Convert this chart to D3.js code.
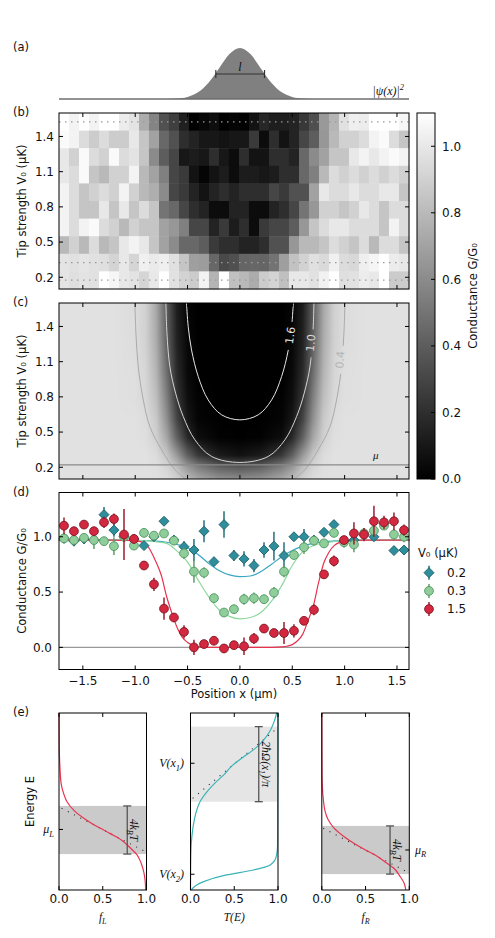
<!DOCTYPE html>
<html lang="en">
<head>
<meta charset="UTF-8">
<script src="https://d3js.org/d3.v7.min.js"></script>
<title>Tip conductance</title>
<style>
  body { margin: 0; background: #fff; }
  text { font-family: "DejaVu Sans", sans-serif; fill: #111; }
  .math { font-family: "Liberation Serif", "DejaVu Serif", serif; font-style: italic; }
</style>
</head>
<body>
<div id="chart"></div>
<script>
// ---------- data ----------
// tip positions (µm) of the measured cuts
const xPos = [-1.68, -1.585, -1.489, -1.394, -1.298, -1.203, -1.107, -1.012, -0.916, -0.821,
  -0.725, -0.63, -0.534, -0.439, -0.343, -0.248, -0.152, -0.057, 0.039, 0.134,
  0.23, 0.325, 0.421, 0.516, 0.612, 0.707, 0.803, 0.898, 0.994, 1.089,
  1.185, 1.28, 1.376, 1.471, 1.567];

// (d) conductance cuts, V0 = 0.2, 0.3, 1.5 µK, with error bars
const g02 = [0.985, 0.96, 0.98, 0.97, 1.20, 1.06, 1.0, 0.98, 0.92, 1.0,
  1.14, 0.97, 0.91, 0.88, 1.05, 0.775, 1.11, 0.83, 0.80, 0.74,
  0.88, 0.915, 0.83, 1.0, 1.0, 0.97, 1.04, 1.11, 0.96, 0.97,
  1.02, 1.0, 1.12, 0.875, 0.88];
const e02 = [0.03, 0.03, 0.03, 0.03, 0.07, 0.06, 0.03, 0.03, 0.03, 0.03,
  0.03, 0.03, 0.05, 0.1, 0.1, 0.04, 0.12, 0.05, 0.07, 0.06,
  0.07, 0.13, 0.12, 0.02, 0.07, 0.03, 0.03, 0.03, 0.03, 0.03,
  0.03, 0.03, 0.03, 0.02, 0.02];
const g03 = [0.985, 0.97, 0.99, 0.97, 0.96, 0.915, 1.0, 0.92, 1.035, 1.01,
  1.03, 0.965, 0.85, 0.685, 0.675, 0.445, 0.315, 0.345, 0.435, 0.445,
  0.435, 0.495, 0.685, 0.835, 0.905, 0.965, 0.94, 1.035, 0.95, 0.93,
  1.03, 1.055, 1.1, 1.02, 1.0];
const e03 = [0.03, 0.03, 0.03, 0.08, 0.04, 0.08, 0.03, 0.04, 0.04, 0.03,
  0.03, 0.04, 0.05, 0.1, 0.05, 0.04, 0.03, 0.04, 0.05, 0.05,
  0.04, 0.05, 0.05, 0.04, 0.06, 0.04, 0.04, 0.04, 0.05, 0.07,
  0.05, 0.05, 0.04, 0.05, 0.05];
const g15 = [1.10, 1.05, 1.11, 1.05, 1.13, 1.16, 1.02, 0.98, 0.74, 0.57,
  0.35, 0.27, 0.14, 0.00, 0.03, 0.06, -0.01, 0.02, 0.01, 0.08,
  0.17, 0.13, 0.13, 0.15, 0.24, 0.34, 0.66, 0.78, 0.97, 1.03,
  1.02, 1.14, 1.13, 1.14, 1.06];
const e15 = [0.075, 0.04, 0.04, 0.04, 0.05, 0.05, 0.23, 0.04, 0.04, 0.06,
  0.1, 0.04, 0.06, 0.07, 0.03, 0.03, 0.04, 0.03, 0.08, 0.05,
  0.04, 0.03, 0.1, 0.06, 0.03, 0.05, 0.04, 0.05, 0.04, 0.1,
  0.06, 0.14, 0.06, 0.08, 0.05];

// (d) fitted curves
const fitX = [-1.73, -1.2, -1.0, -0.9, -0.8, -0.7, -0.6, -0.5, -0.4, -0.3, -0.2, -0.1, 0,
  0.1, 0.2, 0.3, 0.4, 0.5, 0.6, 0.7, 0.8, 0.9, 1.0, 1.2, 1.62];
const fit02 = [0.97, 0.97, 0.968, 0.965, 0.96, 0.95, 0.93, 0.9, 0.84, 0.76, 0.695, 0.655, 0.64,
  0.645, 0.685, 0.75, 0.82, 0.875, 0.915, 0.94, 0.955, 0.962, 0.966, 0.97, 0.97];
const fit03 = [0.97, 0.97, 0.968, 0.965, 0.955, 0.94, 0.87, 0.77, 0.61, 0.46, 0.34, 0.28, 0.257,
  0.27, 0.315, 0.415, 0.56, 0.74, 0.865, 0.92, 0.945, 0.957, 0.963, 0.968, 0.97];
const fit15X = [-1.73, -1.2, -1.0, -0.9, -0.8, -0.75, -0.7, -0.65, -0.6, -0.55, -0.5, -0.45, -0.4, -0.3, 0,
  0.3, 0.4, 0.45, 0.5, 0.55, 0.6, 0.65, 0.7, 0.75, 0.8, 0.85, 0.9, 1.0, 1.2, 1.62];
const fit15 = [0.97, 0.97, 0.965, 0.935, 0.77, 0.65, 0.46, 0.31, 0.18, 0.09, 0.045, 0.02, 0.006, 0, 0,
  0, 0.004, 0.01, 0.025, 0.06, 0.12, 0.24, 0.37, 0.58, 0.76, 0.86, 0.92, 0.96, 0.97, 0.97];

// (b) measured map, rows from top (V0 = 1.525) to bottom (V0 = 0.175)
const mapV = [1.525, 1.375, 1.225, 1.075, 0.925, 0.775, 0.625, 0.475, 0.325, 0.175];
const row1375 = [1.08, 1.05, 0.95, 0.88, 0.95, 0.88, 0.88, 1.0, 0.85, 0.7, 0.45, 0.35, 0.2, 0.15, 0.1, 0.1, 0.08, 0.1,
  0.1, 0.25, 0.05, 0.2, 0.08, 0.15, 0.3, 0.4, 0.65, 0.8, 0.9, 0.9, 0.95, 1.05, 1.08, 0.95, 0.85];
const row1225 = [1.0, 0.9, 1.08, 0.95, 0.9, 1.08, 0.95, 0.98, 0.85, 0.6, 0.4, 0.3, 0.1, 0.12, 0.1, 0.2, 0.1, 0.05,
  0.2, 0.08, 0.08, 0.2, 0.2, 0.15, 0.45, 0.6, 0.7, 0.85, 0.85, 1.0, 1.05, 1.0, 1.05, 1.08, 1.05];
const row1075 = [1.0, 0.95, 1.08, 0.85, 0.8, 0.9, 0.9, 1.05, 0.8, 0.7, 0.55, 0.3, 0.25, 0.08, 0.02, 0.08, 0.12, 0.05,
  0.12, 0.12, 0.1, 0.12, 0.2, 0.2, 0.45, 0.55, 0.8, 0.95, 0.9, 0.95, 0.9, 0.95, 0.9, 0.95, 0.9];
const row0925 = [1.05, 0.95, 0.85, 0.9, 0.95, 0.9, 1.05, 0.9, 0.8, 0.75, 0.6, 0.3, 0.25, 0.15, 0.08, 0.15, 0.2, 0.15,
  0.2, 0.2, 0.2, 0.3, 0.25, 0.35, 0.35, 0.7, 1.0, 0.95, 0.95, 1.0, 0.95, 0.95, 1.0, 1.0, 0.85];
const row0775 = [1.05, 0.95, 0.85, 0.85, 1.0, 0.85, 1.0, 0.85, 0.95, 0.85, 0.5, 0.45, 0.3, 0.2, 0.15, 0.05, 0.05, 0.15,
  0.15, 0.05, 0.05, 0.15, 0.2, 0.3, 0.5, 0.65, 0.9, 0.9, 0.85, 0.9, 1.0, 0.95, 0.85, 0.95, 0.95];
const row0625 = [1.05, 0.95, 1.05, 1.08, 0.95, 0.9, 0.8, 0.9, 0.85, 0.85, 0.7, 0.65, 0.55, 0.3, 0.3, 0.15, 0.25, 0.12,
  0.2, 0.05, 0.25, 0.3, 0.3, 0.4, 0.65, 0.85, 0.95, 1.0, 1.0, 0.95, 0.95, 0.95, 0.85, 1.05, 0.95];
const row0475 = [0.8, 0.9, 0.8, 0.95, 0.8, 0.85, 1.0, 1.05, 1.0, 0.85, 0.7, 0.6, 0.45, 0.45, 0.4, 0.25, 0.2, 0.2,
  0.15, 0.15, 0.2, 0.35, 0.35, 0.65, 0.8, 0.8, 0.85, 0.95, 0.9, 0.85, 0.95, 0.8, 0.95, 0.95, 0.85];
const mapRows = [g15, row1375, row1225, row1075, row0925, row0775, row0625, row0475, g03, g02];
const cutV = [1.525, 0.325, 0.175];

// (c) simulated map: G along |x| for several tip strengths
const simV = [0.1, 0.2, 0.3, 0.45, 0.6, 0.8, 1.0, 1.3, 1.6];
const simAbsX = [0, 0.2, 0.4, 0.5, 0.6, 0.7, 0.8, 0.9, 1.0, 1.2, 1.75];
const simG = [
  [0.6, 0.63, 0.72, 0.8, 0.9, 0.95, 0.97, 0.97, 0.97, 0.97, 0.97],
  [0.38, 0.42, 0.55, 0.66, 0.82, 0.92, 0.96, 0.97, 0.97, 0.97, 0.97],
  [0.08, 0.12, 0.25, 0.42, 0.66, 0.86, 0.95, 0.97, 0.97, 0.97, 0.97],
  [0, 0.01, 0.06, 0.18, 0.42, 0.72, 0.9, 0.96, 0.97, 0.97, 0.97],
  [0, 0, 0.02, 0.1, 0.3, 0.63, 0.87, 0.95, 0.97, 0.97, 0.97],
  [0, 0, 0.01, 0.06, 0.22, 0.55, 0.82, 0.93, 0.96, 0.97, 0.97],
  [0, 0, 0, 0.04, 0.18, 0.48, 0.78, 0.92, 0.96, 0.97, 0.97],
  [0, 0, 0, 0.03, 0.14, 0.42, 0.74, 0.9, 0.95, 0.97, 0.97],
  [0, 0, 0, 0.02, 0.12, 0.4, 0.72, 0.9, 0.95, 0.97, 0.97]
];
// (c) contour lines (left branch, |x| and V0)
const c16X = [0.51, 0.494, 0.462, 0.398, 0.303, 0.175, 0];
const c16V = [1.6, 1.4, 1.2, 0.973, 0.774, 0.647, 0.604];
const c10X = [0.707, 0.697, 0.669, 0.614, 0.541, 0.43, 0.27, 0];
const c10V = [1.6, 1.342, 1.058, 0.831, 0.632, 0.434, 0.292, 0.241];
const c04X = [1.003, 0.993, 0.971, 0.923, 0.86, 0.748, 0.621, 0.509];
const c04V = [1.6, 1.342, 1.058, 0.774, 0.547, 0.349, 0.179, 0.094];
const muLevel = 0.22;

// (a) wavefunction
const psiX = [-1.73, -0.8, -0.6, -0.5, -0.4, -0.3, -0.2, -0.1, 0, 0.1, 0.2, 0.3, 0.4, 0.5, 0.6, 0.8, 1.62];
const psiH = [0, 0, 0.01, 0.04, 0.13, 0.32, 0.6, 0.88, 1, 0.88, 0.6, 0.32, 0.13, 0.04, 0.01, 0, 0];
const lBar = [-0.23, 0.235];

// (e) sketches (energy in arbitrary units, 0 bottom .. 1 top)
const fLE = [0, 0.05, 0.1, 0.15, 0.2, 0.24, 0.28, 0.32, 0.342, 0.36, 0.4, 0.45, 0.5, 0.55, 0.6, 0.7, 0.8, 1.0];
const fLv = [0.99, 0.985, 0.97, 0.94, 0.89, 0.81, 0.72, 0.58, 0.5, 0.43, 0.3, 0.17, 0.09, 0.05, 0.025, 0.01, 0.003, 0];
const t1E = [0, 0.2, 0.3, 0.4, 0.45, 0.5, 0.55, 0.6, 0.65, 0.7, 0.75, 0.8, 0.85, 0.9, 0.95, 1.0];
const t1v = [0, 0.004, 0.015, 0.045, 0.07, 0.11, 0.18, 0.27, 0.38, 0.47, 0.6, 0.74, 0.84, 0.91, 0.955, 0.985];
const t2E = [0, 0.01, 0.047, 0.085, 0.113, 0.141, 0.188, 0.25, 1.0];
const t2v = [0.01, 0.025, 0.15, 0.41, 0.72, 0.91, 0.98, 0.995, 1.0];
const fRE = [0, 0.04, 0.08, 0.12, 0.16, 0.2, 0.226, 0.26, 0.3, 0.35, 0.4, 0.45, 0.5, 0.6, 0.7, 1.0];
const fRv = [0.96, 0.94, 0.89, 0.83, 0.72, 0.6, 0.5, 0.38, 0.26, 0.14, 0.07, 0.035, 0.02, 0.005, 0.002, 0];
const muL = 0.342, muR = 0.226, vx1 = 0.716, vx2 = 0.089;
const bandL = [0.203, 0.475], bandM = [0.499, 0.923], bandR = [0.09, 0.362];
const tanL = [[0.03, 0.462], [0.99, 0.216]];
const tanM = [[0.025, 0.518], [0.97, 0.905]];
const tanR = [[0.017, 0.349], [0.97, 0.103]];
const barF = 0.78;

// ---------- drawing ----------
const width = 495, height = 938;
const svg = d3.select("#chart").append("svg")
  .attr("width", width).attr("height", height);
svg.append("rect").attr("width", width).attr("height", height).attr("fill", "#fff");

const step = (xPos[xPos.length - 1] - xPos[0]) / (xPos.length - 1);
const x = d3.scaleLinear().domain([xPos[0] - step / 2, xPos[xPos.length - 1] + step / 2]).range([59, 409]);
const L = 59, R = 409;
const xTicks = [-1.5, -1.0, -0.5, 0, 0.5, 1.0, 1.5];
const vTicks = [0.2, 0.5, 0.8, 1.1, 1.4];
const fmt = d3.format(".1f");

function box(g, x0, x1, y0, y1, xt, ylt, yrt) {
  const tl = 4;
  const lines = [];
  xt.forEach(p => { lines.push([p, y1, p, y1 - tl]); lines.push([p, y0, p, y0 + tl]); });
  ylt.forEach(p => lines.push([x0, p, x0 + tl, p]));
  yrt.forEach(p => lines.push([x1, p, x1 - tl, p]));
  g.selectAll(null).data(lines).join("line")
    .attr("x1", d => d[0]).attr("y1", d => d[1]).attr("x2", d => d[2]).attr("y2", d => d[3])
    .attr("stroke", "#000").attr("stroke-width", 1);
  g.append("rect").attr("x", x0).attr("y", y0).attr("width", x1 - x0).attr("height", y1 - y0)
    .attr("fill", "none").attr("stroke", "#000").attr("stroke-width", 1);
}

function rich(g, px, py, parts, size, anchor, cls) {
  const t = g.append("text").attr("x", px).attr("y", py).attr("font-size", size)
    .attr("text-anchor", anchor || "start");
  if (cls) t.attr("class", cls);
  let shift = 0;
  parts.forEach(([s, k]) => {
    const target = k === "sub" ? size * 0.28 : k === "sup" ? -size * 0.42 : 0;
    t.append("tspan").attr("dy", target - shift).attr("font-size", k ? size * 0.7 : size).text(s);
    shift = target;
  });
  return t;
}

function panelLabel(s, py) {
  svg.append("text").attr("x", 13).attr("y", py).attr("font-size", 11.5).text(s);
}

// ----- (a) -----
panelLabel("(a)", 51);
const hA = d3.scaleLinear().domain([0, 1]).range([99, 48]);
svg.append("path").datum(psiH)
  .attr("d", d3.area().x((d, i) => x(psiX[i])).y0(hA(0)).y1(d => hA(d)).curve(d3.curveMonotoneX))
  .attr("fill", "#808080");
svg.append("line").attr("x1", L).attr("x2", R).attr("y1", hA(0)).attr("y2", hA(0))
  .attr("stroke", "#6e6e6e").attr("stroke-width", 1.3);
const by = hA(0.49);
const ga = svg.append("g").attr("stroke", "#333").attr("stroke-width", 1.2);
ga.append("line").attr("x1", x(lBar[0])).attr("x2", x(lBar[1])).attr("y1", by).attr("y2", by);
lBar.forEach(v => ga.append("line").attr("x1", x(v)).attr("x2", x(v)).attr("y1", by - 4).attr("y2", by + 4));
svg.append("text").attr("class", "math").attr("x", x(0)).attr("y", by - 3).attr("text-anchor", "middle")
  .attr("font-size", 12).text("l");
rich(svg, 404, 95, [["|ψ(x)|", null], ["2", "sup"]], 12, "end", "math");

// ----- (b) -----
panelLabel("(b)", 116);
const vB = d3.scaleLinear().domain([0.1, 1.6]).range([289, 113]);
const gray = d3.scaleLinear().domain([0, 1.1]).range(["#000", "#fff"]).clamp(true);
const gb = svg.append("g");
mapRows.forEach((row, j) => {
  gb.selectAll(null).data(row).join("rect")
    .attr("x", (d, i) => x(xPos[i] - step / 2))
    .attr("width", (d, i) => x(xPos[i] + step / 2) - x(xPos[i] - step / 2) + 0.5)
    .attr("y", vB(mapV[j] + 0.075))
    .attr("height", vB(mapV[j] - 0.075) - vB(mapV[j] + 0.075) + 0.5)
    .attr("fill", d => gray(d));
});
gb.selectAll(null).data(cutV).join("line")
  .attr("x1", L).attr("x2", R).attr("y1", d => vB(d)).attr("y2", d => vB(d))
  .attr("stroke", "#9a9a9a").attr("stroke-width", 1.3).attr("stroke-dasharray", "1.5,4.5");
box(svg, L, R, 113, 289, xTicks.map(x), vTicks.map(vB), vTicks.map(vB));
svg.selectAll(null).data(vTicks).join("text")
  .attr("x", 54).attr("y", d => vB(d) + 4.3).attr("text-anchor", "end").attr("font-size", 12)
  .text(fmt);
svg.append("text").attr("transform", `translate(26,${(113 + 289) / 2}) rotate(-90)`)
  .attr("text-anchor", "middle").attr("font-size", 11.5).text("Tip strength V₀ (µK)");

// ----- colorbar -----
const cbY = d3.scaleLinear().domain([0, 1.1]).range([479, 113]);
const defs = svg.append("defs");
const grad = defs.append("linearGradient").attr("id", "cbGrad")
  .attr("x1", 0).attr("x2", 0).attr("y1", 1).attr("y2", 0);
grad.append("stop").attr("offset", 0).attr("stop-color", gray(0));
grad.append("stop").attr("offset", 1).attr("stop-color", gray(1.1));
svg.append("rect").attr("x", 417).attr("y", 113).attr("width", 18).attr("height", 366)
  .attr("fill", "url(#cbGrad)");
const cbTicks = [0, 0.2, 0.4, 0.6, 0.8, 1.0];
box(svg, 417, 435, 113, 479, [], [], cbTicks.map(cbY));
svg.selectAll(null).data(cbTicks).join("text")
  .attr("x", 442).attr("y", d => cbY(d) + 4.3).attr("font-size", 12).text(fmt);
svg.append("text").attr("transform", `translate(477,${(113 + 479) / 2}) rotate(-90)`)
  .attr("text-anchor", "middle").attr("font-size", 11.5).text("Conductance G/G₀");

// ----- (c) -----
panelLabel("(c)", 306);
const vC = d3.scaleLinear().domain([0.1, 1.6]).range([479, 303]);
const cw = R - L, ch = 479 - 303;
const canvas = document.createElement("canvas");
canvas.width = cw; canvas.height = ch;
const ctx = canvas.getContext("2d");
const img = ctx.createImageData(cw, ch);
const rowScales = simG.map(r => d3.scaleLinear().domain(simAbsX).range(r).clamp(true));
for (let i = 0; i < cw; i++) {
  const ax = Math.abs(x.invert(L + i + 0.5));
  const colVals = rowScales.map(s => s(ax));
  const vs = d3.scaleLinear().domain(simV).range(colVals).clamp(true);
  for (let j = 0; j < ch; j++) {
    const c = d3.color(gray(vs(vC.invert(303 + j + 0.5))));
    const k = (j * cw + i) * 4;
    img.data[k] = c.r; img.data[k + 1] = c.g; img.data[k + 2] = c.b; img.data[k + 3] = 255;
  }
}
ctx.putImageData(img, 0, 0);
svg.append("image").attr("x", L).attr("y", 303).attr("width", cw).attr("height", ch)
  .attr("preserveAspectRatio", "none").attr("href", canvas.toDataURL());

defs.append("clipPath").attr("id", "clipC").append("rect")
  .attr("x", L).attr("y", 303).attr("width", cw).attr("height", ch);
const labels = [
  { t: "1.6", ax: 0.478, v: 1.32, rot: -82, col: "#e4e4e4" },
  { t: "1.0", ax: 0.675, v: 1.256, rot: -85, col: "#d6d6d6" },
  { t: "0.4", ax: 0.955, v: 1.115, rot: -86, col: "#b4b4b4" }
];
const mask = defs.append("mask").attr("id", "lblMask");
mask.append("rect").attr("x", 0).attr("y", 0).attr("width", width).attr("height", height).attr("fill", "#fff");
labels.forEach(d => mask.append("rect").attr("x", x(d.ax) - 6).attr("y", vC(d.v) - 14)
  .attr("width", 12).attr("height", 28).attr("fill", "#000"));

const gc = svg.append("g").attr("clip-path", "url(#clipC)");
const cl = gc.append("g").attr("mask", "url(#lblMask)").attr("fill", "none");
const line = d3.line().x(d => x(d[0])).y(d => vC(d[1])).curve(d3.curveCatmullRom);
function branch(xs, vs, sgn) { return xs.map((a, i) => [sgn * a, vs[i]]); }
cl.append("path").attr("d", line(branch(c16X, c16V, -1).concat(branch(c16X, c16V, 1).reverse().slice(1))))
  .attr("stroke", "#e6e6e6").attr("stroke-width", 1);
cl.append("path").attr("d", line(branch(c10X, c10V, -1).concat(branch(c10X, c10V, 1).reverse().slice(1))))
  .attr("stroke", "#d4d4d4").attr("stroke-width", 1);
[-1, 1].forEach(s => cl.append("path").attr("d", line(branch(c04X, c04V, s)))
  .attr("stroke", "#a9a9a9").attr("stroke-width", 1));
labels.forEach(d => gc.append("text")
  .attr("transform", `translate(${x(d.ax) + 4},${vC(d.v)}) rotate(${d.rot})`)
  .attr("text-anchor", "middle").attr("font-size", 11).style("fill", d.col).text(d.t));
gc.append("line").attr("x1", L).attr("x2", R).attr("y1", vC(muLevel)).attr("y2", vC(muLevel))
  .attr("stroke", "#8a8a8a").attr("stroke-width", 1.3);
svg.append("text").attr("class", "math").attr("x", 373).attr("y", vC(muLevel) - 6)
  .attr("font-size", 11).text("μ");
box(svg, L, R, 303, 479, xTicks.map(x), vTicks.map(vC), vTicks.map(vC));
svg.selectAll(null).data(vTicks).join("text")
  .attr("x", 54).attr("y", d => vC(d) + 4.3).attr("text-anchor", "end").attr("font-size", 12)
  .text(fmt);
svg.append("text").attr("transform", `translate(26,${(303 + 479) / 2}) rotate(-90)`)
  .attr("text-anchor", "middle").attr("font-size", 11.5).text("Tip strength V₀ (µK)");

// ----- (d) -----
panelLabel("(d)", 496);
const gD = d3.scaleLinear().domain([-0.2, 1.4]).range([669.5, 492.5]);
const gd = svg.append("g");
gd.append("line").attr("x1", L).attr("x2", R).attr("y1", gD(0)).attr("y2", gD(0))
  .attr("stroke", "#999").attr("stroke-width", 1.3);
const fitLine = xs => d3.line().x((d, i) => x(xs[i])).y(d => gD(d)).curve(d3.curveMonotoneX);
const series = [
  { g: g02, e: e02, fitx: fitX, fit: fit02, face: "#2f8e9c", edge: "#1c5c67", err: "#24707c", line: "#3aa6c2", shape: "D", name: "0.2" },
  { g: g03, e: e03, fitx: fitX, fit: fit03, face: "#8fcd9a", edge: "#4f9660", err: "#5d9f6b", line: "#8cd89d", shape: "o", name: "0.3" },
  { g: g15, e: e15, fitx: fit15X, fit: fit15, face: "#d3283f", edge: "#7d1824", err: "#9c1d2e", line: "#e8334f", shape: "o", name: "1.5" }
];
function marker(sel, s, r) {
  if (s.shape === "D") {
    sel.append("path").attr("d", `M0,${-r - 0.6}L${r + 0.6},0L0,${r + 0.6}L${-r - 0.6},0Z`)
      .attr("fill", s.face).attr("stroke", s.edge).attr("stroke-width", 0.9);
  } else {
    sel.append("circle").attr("r", r).attr("fill", s.face).attr("stroke", s.edge).attr("stroke-width", 0.9);
  }
}
series.forEach(s => {
  gd.append("path").datum(s.fit).attr("d", fitLine(s.fitx)).attr("fill", "none")
    .attr("stroke", s.line).attr("stroke-width", 1.2);
});
series.forEach(s => {
  const pts = gd.append("g").selectAll("g").data(s.g).join("g")
    .attr("transform", (d, i) => `translate(${x(xPos[i])},${gD(d)})`);
  pts.append("line").attr("y1", (d, i) => gD(d + s.e[i]) - gD(d)).attr("y2", (d, i) => gD(d - s.e[i]) - gD(d))
    .attr("stroke", s.err).attr("stroke-width", 1.5);
  pts.each(function () { marker(d3.select(this), s, 4.4); });
});
box(svg, L, R, 492.5, 669.5, xTicks.map(x), [0, 0.5, 1.0].map(gD), [0, 0.5, 1.0].map(gD));
svg.selectAll(null).data([0, 0.5, 1.0]).join("text")
  .attr("x", 52).attr("y", d => gD(d) + 4.3).attr("text-anchor", "end").attr("font-size", 12).text(fmt);
svg.selectAll(null).data(xTicks).join("text")
  .attr("x", d => x(d)).attr("y", 685).attr("text-anchor", "middle").attr("font-size", 12).text(fmt);
svg.append("text").attr("x", (L + R) / 2).attr("y", 698).attr("text-anchor", "middle")
  .attr("font-size", 11.5).text("Position x (µm)");
svg.append("text").attr("transform", `translate(26,${(492.5 + 669.5) / 2}) rotate(-90)`)
  .attr("text-anchor", "middle").attr("font-size", 11.5).text("Conductance G/G₀");
// legend
svg.append("text").attr("x", 418).attr("y", 557).attr("font-size", 11.5).text("V₀ (µK)");
series.forEach((s, k) => {
  const yy = 572.7 + k * 18.2;
  const lg = svg.append("g").attr("transform", `translate(429,${yy})`);
  lg.append("line").attr("y1", -7).attr("y2", 7).attr("stroke", s.err).attr("stroke-width", 1.5);
  marker(lg, s, 4.4);
  svg.append("text").attr("x", 447).attr("y", yy + 4.3).attr("font-size", 12).text(s.name);
});

// ----- (e) -----
panelLabel("(e)", 716);
const eY = d3.scaleLinear().domain([0, 1]).range([890, 713]);
const eW = 87.5;
const subs = [
  { x0: 59, band: bandL, bandCol: "#cacaca", curves: [[fLE, fLv]], col: "#e8334f", tan: tanL, barLbl: [["4k", null], ["B", "sub"], ["T", null]], xl: [["f", null], ["L", "sub"]] },
  { x0: 190.5, band: bandM, bandCol: "#e5e5e5", curves: [[t1E, t1v], [t2E, t2v]], col: "#3ab3b8", tan: tanM, barLbl: [["2ħΩ(x", null], ["1", "sub"], [")/π", null]], xl: [["T(E)", null]] },
  { x0: 321.8, band: bandR, bandCol: "#cacaca", curves: [[fRE, fRv]], col: "#e8334f", tan: tanR, barLbl: [["4k", null], ["B", "sub"], ["T", null]], xl: [["f", null], ["R", "sub"]] }
];
subs.forEach(p => {
  const fx = d3.scaleLinear().domain([0, 1]).range([p.x0, p.x0 + eW]);
  const g = svg.append("g");
  g.append("rect").attr("x", p.x0).attr("width", eW).attr("y", eY(p.band[1]))
    .attr("height", eY(p.band[0]) - eY(p.band[1])).attr("fill", p.bandCol);
  g.append("line").attr("x1", fx(p.tan[0][0])).attr("y1", eY(p.tan[0][1]))
    .attr("x2", fx(p.tan[1][0])).attr("y2", eY(p.tan[1][1]))
    .attr("stroke", "#222").attr("stroke-width", 1.1).attr("stroke-dasharray", "1,6");
  p.curves.forEach(([es, fs]) => {
    g.append("path").datum(fs)
      .attr("d", d3.line().x(d => fx(d)).y((d, i) => eY(es[i])).curve(d3.curveMonotoneY))
      .attr("fill", "none").attr("stroke", p.col).attr("stroke-width", 1.2);
  });
  // error bar marking the band height
  const bx = fx(barF);
  const eb = g.append("g").attr("stroke", "#555").attr("stroke-width", 1.3);
  eb.append("line").attr("x1", bx).attr("x2", bx).attr("y1", eY(p.band[1])).attr("y2", eY(p.band[0]));
  p.band.forEach(v => eb.append("line").attr("x1", bx - 4).attr("x2", bx + 4).attr("y1", eY(v)).attr("y2", eY(v)));
  const lg = g.append("g").attr("transform", `translate(${bx + 3},${(eY(p.band[0]) + eY(p.band[1])) / 2}) rotate(90)`);
  rich(lg, 0, 0, p.barLbl, 11.5, "middle", "math");
  svg.selectAll(null).data([0, 0.5, 1.0]).join("text")
    .attr("x", d => fx(d)).attr("y", 903).attr("text-anchor", "middle").attr("font-size", 12).text(fmt);
  rich(svg, p.x0 + eW / 2, 921, p.xl, 11.5, "middle", "math");
  p.fx = fx;
});
box(svg, 59, 59 + eW, 713, 890, [0, 0.5, 1].map(subs[0].fx), [eY(muL)], []);
box(svg, 190.5, 190.5 + eW, 713, 890, [0, 0.5, 1].map(subs[1].fx), [eY(vx1), eY(vx2)], []);
box(svg, 321.8, 321.8 + eW, 713, 890, [0, 0.5, 1].map(subs[2].fx), [], [eY(muR)]);
rich(svg, 54, eY(muL) + 4, [["μ", null], ["L", "sub"]], 12, "end", "math");
rich(svg, 184, eY(vx1) + 4, [["V(x", null], ["1", "sub"], [")", null]], 12, "end", "math");
rich(svg, 184, eY(vx2) + 4, [["V(x", null], ["2", "sub"], [")", null]], 12, "end", "math");
rich(svg, 415, eY(muR) + 4, [["μ", null], ["R", "sub"]], 12, "start", "math");
svg.append("text").attr("transform", `translate(34,${(713 + 890) / 2}) rotate(-90)`)
  .attr("text-anchor", "middle").attr("font-size", 11.5).text("Energy E");
</script>
</body>
</html>
